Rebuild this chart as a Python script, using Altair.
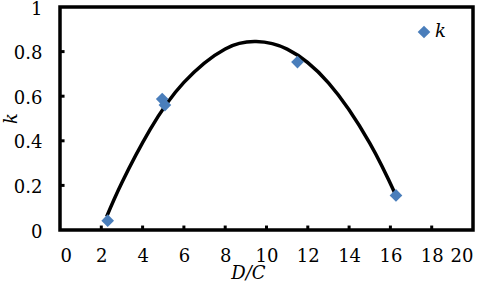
import altair as alt
import pandas as pd

# data
dc = [2.31, 4.95, 5.08, 11.5, 16.27]
k = [0.042, 0.587, 0.56, 0.753, 0.155]
series = ["k"] * len(dc)

# fitted curve, points
curve_x = [2.26, 3.0, 4.36, 6.0, 8.0, 9.5, 11.0, 13.0, 15.0, 16.27]
curve_y = [0.06, 0.213, 0.45, 0.662, 0.812, 0.845, 0.811, 0.66, 0.39, 0.155]

x_ticks = [2, 4, 6, 8, 10, 12, 14, 16, 18]
y_ticks = [0.2, 0.4, 0.6, 0.8]

df = pd.DataFrame({"DC": dc, "k": k, "s": series})
cf = pd.DataFrame({"DC": curve_x, "k": curve_y})
xt = pd.DataFrame({"v": x_ticks, "z": [0] * len(x_ticks), "z2": [0.02] * len(x_ticks)})
yt = pd.DataFrame({"v": y_ticks, "z": [0] * len(y_ticks), "z2": [0.22] * len(y_ticks)})

FONT = "DejaVu Serif"
FS = 18
BLUE = "#4a7ebb"

xscale = alt.Scale(domain=[0, 20], nice=False, zero=False)
yscale = alt.Scale(domain=[0, 1], nice=False, zero=False)

xaxis = alt.Axis(values=list(range(0, 21, 2)), title="D/C", titleFontStyle="italic",
                 titleFont=FONT, titleFontSize=FS, titleFontWeight="normal",
                 labelFont=FONT, labelFontSize=FS, labelColor="black", format="~g",
                 ticks=False, domain=False, grid=False, labelPadding=17,
                 titleX=188, titleY=43, titleAnchor="middle", titleBaseline="middle",
                 titleColor="black")
yaxis = alt.Axis(values=[0, 0.2, 0.4, 0.6, 0.8, 1], title="k", titleFontStyle="italic",
                 titleFont=FONT, titleFontSize=FS, titleFontWeight="normal",
                 labelFont=FONT, labelFontSize=FS, labelColor="black", format="~g",
                 ticks=False, domain=False, grid=False, labelPadding=18, labelOffset=2,
                 titleX=-49, titleY=111, titleAngle=-90, titleAlign="center",
                 titleBaseline="middle", titleColor="black", labelFlush=False)

pts = alt.Chart(df).mark_point(shape="diamond", filled=True, size=160, opacity=1).encode(
    x=alt.X("DC:Q", scale=xscale, axis=xaxis),
    y=alt.Y("k:Q", scale=yscale, axis=yaxis),
    color=alt.Color("s:N", scale=alt.Scale(range=[BLUE]),
                    legend=alt.Legend(title=None, orient="none", legendX=355, legendY=16,
                                      symbolType="diamond", symbolSize=160,
                                      labelFont=FONT, labelFontSize=FS,
                                      labelFontStyle="italic", labelColor="black",
                                      symbolStrokeWidth=0, labelOffset=2)),
)

curve = alt.Chart(cf).mark_line(color="black", strokeWidth=3.5, interpolate="natural").encode(
    x=alt.X("DC:Q", scale=xscale),
    y=alt.Y("k:Q", scale=yscale),
)

xt_marks = alt.Chart(xt).mark_rule(color="black", strokeWidth=3).encode(
    x=alt.X("v:Q", scale=xscale), y=alt.Y("z:Q", scale=yscale), y2="z2:Q")
yt_marks = alt.Chart(yt).mark_rule(color="black", strokeWidth=3).encode(
    y=alt.Y("v:Q", scale=yscale), x=alt.X("z:Q", scale=xscale), x2="z2:Q")

chart = alt.layer(xt_marks, yt_marks, curve, pts).properties(
    width=413, height=223,
    autosize=alt.AutoSizeParams(type="none"),
    padding={"left": 60, "top": 7, "right": 11, "bottom": 52},
    background="white",
).configure_view(stroke="black", strokeWidth=3.5)

chart.save("out.html", embed_options={"renderer": "svg", "actions": False})
